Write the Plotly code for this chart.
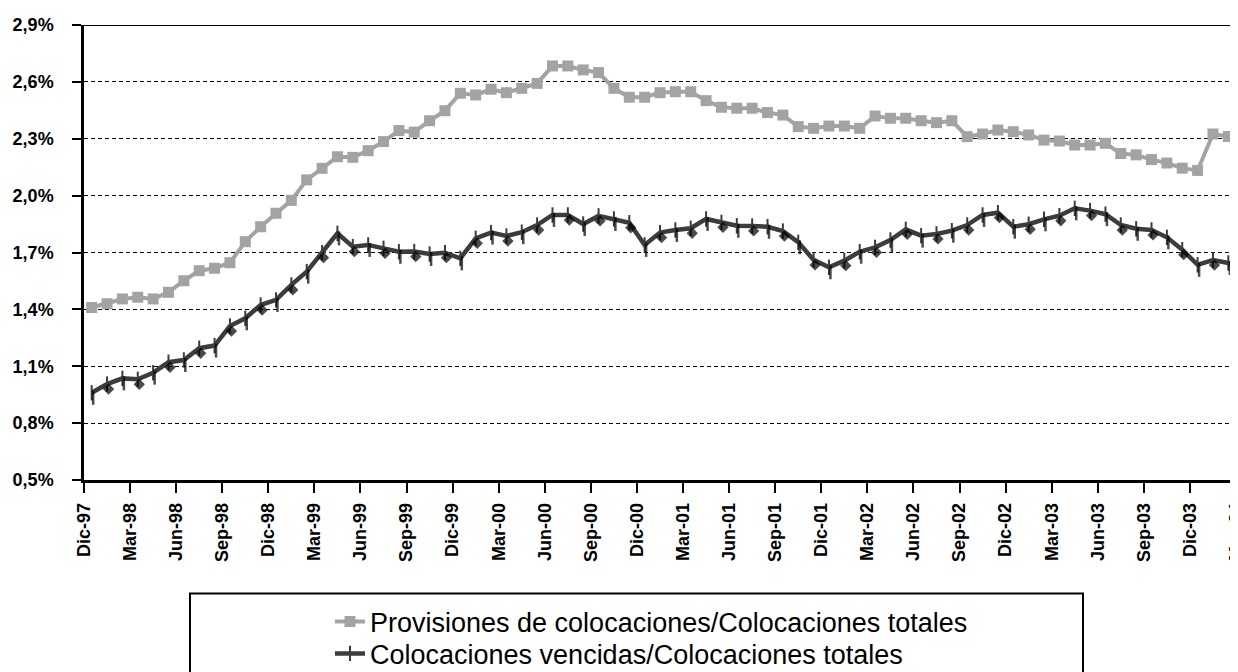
import plotly.graph_objects as go

# ---------------- data ----------------
tick_labels = ["Dic-97", "Mar-98", "Jun-98", "Sep-98", "Dic-98", "Mar-99", "Jun-99", "Sep-99",
               "Dic-99", "Mar-00", "Jun-00", "Sep-00", "Dic-00", "Mar-01", "Jun-01", "Sep-01",
               "Dic-01", "Mar-02", "Jun-02", "Sep-02", "Dic-02", "Mar-03", "Jun-03", "Sep-03",
               "Dic-03", "Mar-04"]

# monthly values, Dic-97 ... Mar-04 (percent)
provisiones = [1.41, 1.43, 1.455, 1.464, 1.455, 1.49, 1.551, 1.604, 1.617, 1.646,
               1.757, 1.836, 1.907, 1.975, 2.083, 2.144, 2.205, 2.202, 2.237, 2.285,
               2.343, 2.335, 2.395, 2.448, 2.540, 2.531, 2.561, 2.543, 2.566, 2.592,
               2.684, 2.684, 2.663, 2.649, 2.566, 2.519, 2.519, 2.543, 2.548, 2.548,
               2.501, 2.466, 2.461, 2.461, 2.438, 2.425, 2.364, 2.355, 2.367, 2.367,
               2.355, 2.420, 2.408, 2.408, 2.395, 2.385, 2.395, 2.311, 2.325, 2.346,
               2.337, 2.320, 2.293, 2.288, 2.267, 2.267, 2.276, 2.222, 2.215, 2.190,
               2.172, 2.145, 2.133, 2.325, 2.312, 2.20]

vencidas = [0.96, 1.006, 1.036, 1.031, 1.066, 1.121, 1.133, 1.195, 1.209, 1.312,
            1.353, 1.423, 1.450, 1.529, 1.599, 1.699, 1.801, 1.731, 1.740, 1.722,
            1.704, 1.705, 1.692, 1.699, 1.669, 1.775, 1.805, 1.787, 1.807, 1.845,
            1.898, 1.898, 1.850, 1.893, 1.877, 1.857, 1.740, 1.805, 1.819, 1.828,
            1.877, 1.859, 1.841, 1.840, 1.836, 1.813, 1.754, 1.661, 1.622, 1.657,
            1.704, 1.727, 1.766, 1.822, 1.789, 1.798, 1.815, 1.845, 1.898, 1.910,
            1.836, 1.849, 1.875, 1.894, 1.933, 1.921, 1.902, 1.845, 1.825, 1.819,
            1.780, 1.715, 1.635, 1.660, 1.645, 1.600]

y_ticks = [0.5, 0.8, 1.1, 1.4, 1.7, 2.0, 2.3, 2.6, 2.9]
y_tick_labels = ["0,5%", "0,8%", "1,1%", "1,4%", "1,7%", "2,0%", "2,3%", "2,6%", "2,9%"]

name_prov = "Provisiones de colocaciones/Colocaciones totales"
name_venc = "Colocaciones vencidas/Colocaciones totales"

# ---------------- layout constants ----------------
# the page body adds an 8px offset; positions below are in window pixels
OFF = 8
W, H = 1238, 672
PLOT_L, PLOT_T, PLOT_R, PLOT_B = 84, 25, 1238, 480.5   # target plot box (window px)
L = PLOT_L - OFF
T = PLOT_T - OFF
R = W - (PLOT_R - OFF)
B = H - (PLOT_B - OFF)
PW = W - L - R
PH = H - T - B
X_RANGE = [-0.5, 74.63]
Y_RANGE = [0.5, 2.9]

GRAY = "#a3a3a3"
DARK = "#3b3d39"
FONT = "Liberation Sans, Arial, sans-serif"

x = list(range(len(provisiones)))
tick_pos = [-0.5 + 3 * k for k in range(len(tick_labels))]


def px_to_paper_x(px):
    return (px - PLOT_L) / PW


def px_to_paper_y(py):
    return (PLOT_B - py) / PH


# small pixel offsets for the black "shadow" markers of the dark series
dx_units = 1.5 / PW * (X_RANGE[1] - X_RANGE[0])
dy_units = 5.0 / PH * (Y_RANGE[1] - Y_RANGE[0])

fig = go.Figure()

shadow_symbols = ["line-ns" if i % 2 == 0 else "diamond" for i in x]
shadow_sizes = [10 if i % 2 == 0 else 6 for i in x]

fig.add_trace(go.Scatter(
    x=x, y=provisiones, name=name_prov, mode="lines+markers",
    line=dict(color=GRAY, width=4),
    marker=dict(symbol="square", size=11, color=GRAY),
    xaxis="x", yaxis="y", legend="legend",
))
fig.add_trace(go.Scatter(
    x=x, y=vencidas, name=name_venc, mode="lines+markers",
    line=dict(color=DARK, width=4.5),
    marker=dict(symbol="line-ns", size=11, color=DARK, line=dict(color=DARK, width=2)),
    xaxis="x", yaxis="y", legend="legend2",
))
fig.add_trace(go.Scatter(
    x=x, y=vencidas, mode="markers", showlegend=False, hoverinfo="skip",
    marker=dict(symbol=shadow_symbols, size=shadow_sizes, color="black",
                line=dict(color="black", width=2.5)),
    xaxis="x2", yaxis="y2",
))

legend_common = dict(
    xanchor="left", yanchor="top", bgcolor="rgba(0,0,0,0)", borderwidth=0,
    font=dict(family=FONT, size=27, color="black"),
)

fig.update_layout(
    template="none",
    width=W, height=H,
    margin=dict(l=L, r=R, t=T, b=B, pad=0, autoexpand=False),
    paper_bgcolor="white", plot_bgcolor="white",
    font=dict(family=FONT, color="black"),
    showlegend=True,
    xaxis=dict(
        range=X_RANGE, tickmode="array", tickvals=tick_pos, ticktext=tick_labels,
        tickangle=-90, showgrid=False, zeroline=False, automargin=False,
        showline=True, linecolor="black", linewidth=2.5,
        ticks="outside", ticklen=10, tickwidth=1.5, tickcolor="black",
        ticklabelstandoff=3,
        tickfont=dict(family=FONT, size=18, color="black", weight="bold"),
    ),
    yaxis=dict(
        range=Y_RANGE, tickmode="array", tickvals=y_ticks, ticktext=y_tick_labels,
        showgrid=True, gridcolor="black", gridwidth=1, griddash="4px,3px",
        zeroline=False, showline=True, linecolor="black", linewidth=2.5, automargin=False,
        ticks="outside", ticklen=9, tickwidth=1.5, tickcolor="black",
        ticklabelstandoff=15,
        tickfont=dict(family=FONT, size=18, color="black", weight="bold"),
    ),
    xaxis2=dict(range=[X_RANGE[0] - dx_units, X_RANGE[1] - dx_units], overlaying="x",
                visible=False, automargin=False),
    yaxis2=dict(range=[Y_RANGE[0] + dy_units, Y_RANGE[1] + dy_units], overlaying="y",
                visible=False, automargin=False),
    legend=dict(x=px_to_paper_x(330), y=px_to_paper_y(598), **legend_common),
    legend2=dict(x=px_to_paper_x(330), y=px_to_paper_y(630), **legend_common),
    shapes=[
        dict(type="line", xref="paper", yref="y", x0=0, x1=1, y0=2.9, y1=2.9,
             line=dict(color="black", width=2)),
        dict(type="rect", xref="paper", yref="paper",
             x0=px_to_paper_x(190), x1=px_to_paper_x(1083),
             y0=px_to_paper_y(594), y1=px_to_paper_y(690),
             line=dict(color="black", width=2), fillcolor="rgba(0,0,0,0)"),
    ],
)

fig.write_html("out.html")
